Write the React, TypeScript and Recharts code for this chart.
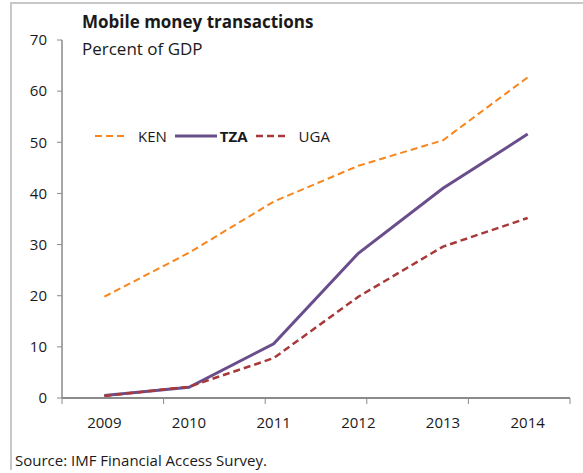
import React from "react";
import { LineChart, Line, XAxis, YAxis } from "recharts";

const years = ["2009", "2010", "2011", "2012", "2013", "2014"];
const ken = [19.8, 28.4, 38.4, 45.4, 50.4, 62.7];
const tza = [0.5, 2.1, 10.6, 28.3, 41.0, 51.6];
const uga = [0.4, 2.2, 7.8, 19.8, 29.6, 35.2];
const yTicks = [0, 10, 20, 30, 40, 50, 60, 70];
const bandEdges = [0, 1, 2, 3, 4, 5, 6];

const data = years.map((year, i) => ({ year, KEN: ken[i], TZA: tza[i], UGA: uga[i] }));

const FONT = "'Open Sans', sans-serif";
const AXIS = "#8a8a8a";
const TEXT = "#1a1a1a";

const series = [
  { key: "KEN", color: "#f7861e", width: 2, dash: "7 4", bold: false, sample: 32, gap: 11 },
  { key: "TZA", color: "#6a4e8c", width: 3, dash: undefined, bold: true, sample: 42, gap: 3 },
  { key: "UGA", color: "#a8393a", width: 2.5, dash: "7 4", bold: false, sample: 32, gap: 11 },
];

const LegendBox = () => (
  <div
    style={{
      position: "absolute",
      left: 95,
      top: 126,
      display: "flex",
      alignItems: "center",
      fontFamily: FONT,
      fontSize: 15,
      color: TEXT,
    }}
  >
    {series.map((s) => (
      <div key={s.key} style={{ display: "flex", alignItems: "center", marginRight: 8 }}>
        <svg width={s.sample} height={10} style={{ marginRight: s.gap }}>
          <line x1={0} y1={5} x2={s.sample} y2={5} stroke={s.color} strokeWidth={s.width} strokeDasharray={s.dash} />
        </svg>
        <span style={{ fontWeight: s.bold ? 700 : 400 }}>{s.key}</span>
      </div>
    ))}
  </div>
);

export default function App() {
  return (
    <div style={{ position: "absolute", left: 0, top: 0, width: 583, height: 473, background: "#fff" }}>
      <div
        style={{
          position: "absolute",
          left: 10,
          top: 2,
          width: 573,
          height: 468,
          borderTop: "2px solid #c8c8c8",
          borderLeft: "2px solid #c8c8c8",
          boxSizing: "border-box",
        }}
      />
      <div style={{ position: "absolute", left: 82, top: 8, fontFamily: FONT, color: TEXT, lineHeight: "27px" }}>
        <div style={{ fontSize: 17, fontWeight: 700 }}>Mobile money transactions</div>
        <div style={{ fontSize: 17 }}>Percent of GDP</div>
      </div>
      <LineChart
        width={583}
        height={473}
        data={data}
        margin={{ top: 40, right: 13, bottom: 44, left: 0 }}
        style={{ position: "absolute", left: 0, top: 0 }}
      >
        <XAxis
          xAxisId="edges"
          type="number"
          domain={[0, 6]}
          allowDataOverflow
          ticks={bandEdges}
          height={1}
          tickFormatter={() => ""}
          tickSize={6}
          axisLine={{ stroke: AXIS, strokeWidth: 2 }}
          tickLine={{ stroke: AXIS }}
        />
        <XAxis
          xAxisId="years"
          dataKey="year"
          scale="band"
          axisLine={false}
          tickLine={false}
          tickSize={5}
          tickMargin={13}
          height={30}
          tick={{ fill: TEXT, fontSize: 15, fontFamily: FONT }}
        />
        <YAxis
          domain={[0, 70]}
          ticks={yTicks}
          width={62}
          tickSize={5}
          tickMargin={10}
          axisLine={{ stroke: AXIS, strokeWidth: 1.5 }}
          tickLine={{ stroke: AXIS }}
          tick={{ fill: TEXT, fontSize: 15, fontFamily: FONT }}
        />
        {series.map((s) => (
          <Line
            key={s.key}
            xAxisId="years"
            dataKey={s.key}
            stroke={s.color}
            strokeWidth={s.width}
            strokeDasharray={s.dash}
            dot={false}
            activeDot={false}
            isAnimationActive={false}
          />
        ))}
      </LineChart>
      <LegendBox />
      <div style={{ position: "absolute", left: 15, top: 450, fontFamily: FONT, fontSize: 15, color: TEXT }}>
        Source: IMF Financial Access Survey.
      </div>
    </div>
  );
}
